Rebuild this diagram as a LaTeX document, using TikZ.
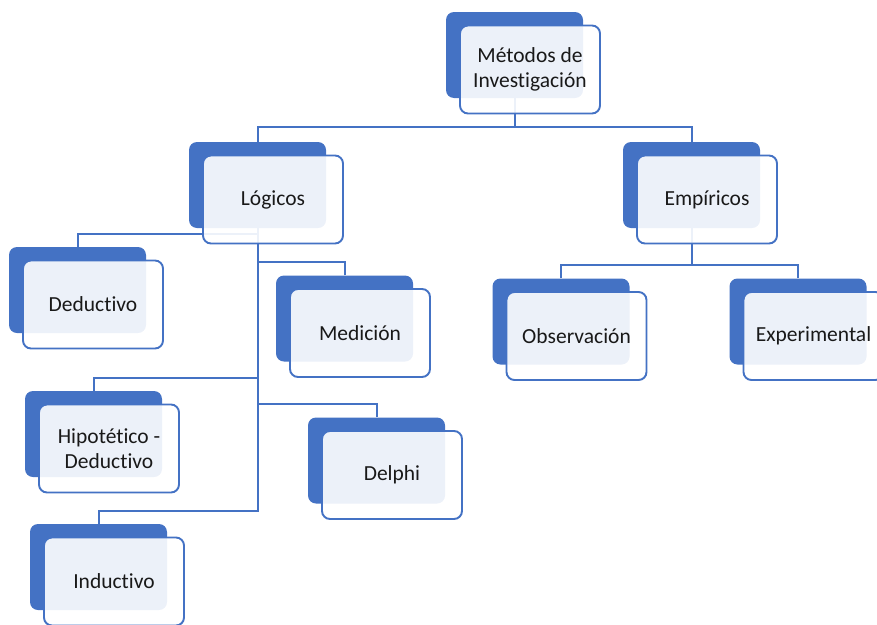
\documentclass[tikz,border=0pt]{standalone}
\usepackage{fontspec}
\setmainfont{Carlito}[Ligatures=NoCommon]
\usetikzlibrary{backgrounds}
\definecolor{accent}{HTML}{4472C4}
\begin{document}
\begin{tikzpicture}[x=1pt,y=-1pt,
  backbox/.style={rectangle, rounded corners=8pt, fill=accent,
    minimum width=137pt, minimum height=86pt, inner sep=0pt},
  frontbox/.style={rectangle, rounded corners=8pt, draw=accent, line width=1.9pt,
    fill=white, fill opacity=0.9, text opacity=1, text=black!90,
    minimum width=140pt, minimum height=88pt, inner sep=0pt, align=center,
    font=\fontsize{21.5}{25}\selectfont},
  link/.style={draw=accent, line width=2pt}]
\useasboundingbox (0,0) rectangle (877,624);

% back panels (connector anchors)
\node[backbox] (met) at (514.5,55) {};
\node[backbox] (log) at (257.5,185) {};
\node[backbox] (emp) at (691.5,185) {};
\node[backbox] (ded) at (77.5,290) {};
\node[backbox] (med) at (344.5,318.5) {};
\node[backbox] (hip) at (93.5,434) {};
\node[backbox] (del) at (376.5,460.5) {};
\node[backbox] (ind) at (98.5,567) {};
\node[backbox] (obs) at (561,321.5) {};
\node[backbox] (exp) at (798,321.5) {};

% translucent front cards with the labels
\node[frontbox] (metT) at ([shift={(15.5,14.5)}]met.center) {Métodos de\\Investigación};
\node[frontbox] (logT) at ([shift={(15.5,14.5)}]log.center) {Lógicos};
\node[frontbox] (empT) at ([shift={(15.5,14.5)}]emp.center) {Empíricos};
\node[frontbox] (dedT) at ([shift={(15.5,14.5)}]ded.center) {Deductivo};
\node[frontbox] (medT) at ([shift={(15.5,14.5)}]med.center) {Medición};
\node[frontbox] (hipT) at ([shift={(15.5,14.5)}]hip.center) {Hipotético -\\Deductivo};
\node[frontbox] (delT) at ([shift={(15.5,14.5)}]del.center) {Delphi};
\node[frontbox] (indT) at ([shift={(15.5,14.5)}]ind.center) {Inductivo};
\node[frontbox] (obsT) at ([shift={(15.5,14.5)}]obs.center) {Observación};
\node[frontbox] (expT) at ([shift={(15.5,14.5)}]exp.center) {Experimental};

% elbow connectors behind the cards
\begin{scope}[on background layer]
  \draw[link] (log.north) -- ++(0,-15) -| (met.south);
  \draw[link] (emp.north) -- ++(0,-15) -| (met.south);
  \draw[link] (ded.north) -- ++(0,-13) -| (log.south);
  \draw[link] (med.north) -- ++(0,-13) -| (log.south);
  \draw[link] (hip.north) -- ++(0,-13) -| (log.south);
  \draw[link] (del.north) -- ++(0,-13) -| (log.south);
  \draw[link] (ind.north) -- ++(0,-13) -| (log.south);
  \draw[link] (obs.north) -- ++(0,-13.5) -| (emp.south);
  \draw[link] (exp.north) -- ++(0,-13.5) -| (emp.south);
\end{scope}
\end{tikzpicture}
\end{document}
